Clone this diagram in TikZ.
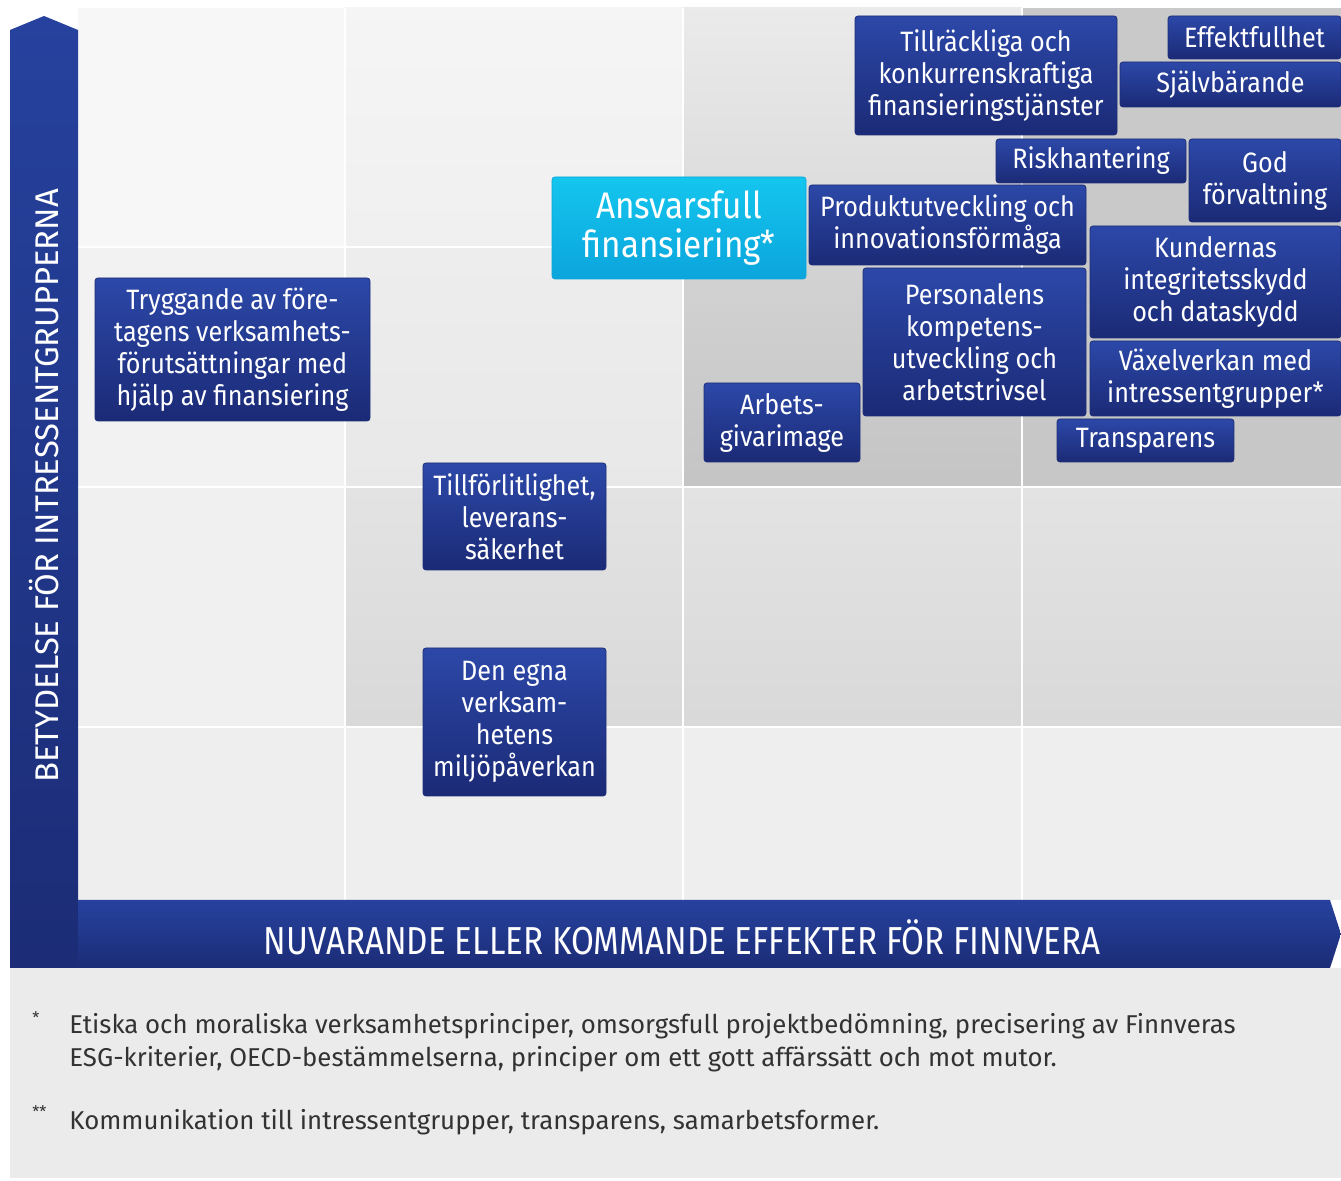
\documentclass[tikz,border=0pt]{standalone}
\usepackage{fontspec}
\setmainfont{Fira Sans}
\newfontfamily\cf{Fira Sans}[FakeStretch=0.9]
\newfontfamily\af{Fira Sans}[FakeStretch=0.85]
\definecolor{btop}{RGB}{44,72,168}
\definecolor{bbot}{RGB}{27,42,118}
\definecolor{bedge}{RGB}{30,46,120}
\definecolor{ctop}{RGB}{20,198,238}
\definecolor{cbot}{RGB}{11,165,220}
\definecolor{bartop}{RGB}{38,66,158}
\definecolor{barbot}{RGB}{28,44,118}
\definecolor{fntext}{RGB}{50,50,50}
\tikzset{
  bluebox/.style={rounded corners=1.5pt, top color=btop, bottom color=bbot, draw=bedge, line width=0.4pt,
    text=white, align=center, inner sep=0pt, font=\cf\fontsize{14}{16}\selectfont},
  cyanbox/.style={rounded corners=1.5pt, top color=ctop, bottom color=cbot, draw=cbot, line width=0.4pt,
    text=white, align=center, inner sep=0pt, font=\cf\fontsize{18.5}{19.5}\selectfont},
  gridline/.style={white, line width=1pt},
  axislabel/.style={text=white, inner sep=0pt},
  fnote/.style={text=fntext, anchor=west, inner sep=0pt, font=\fontsize{12.9}{16.5}\selectfont, align=left},
}
\begin{document}
\begin{tikzpicture}[x=0.5pt,y=-0.5pt]
\useasboundingbox (0,0) rectangle (1341,1181);
\fill[white] (0,0) rectangle (1341,1181);
% footnote area
\fill[black!8] (10,968) rectangle (1341,1178);
% cells row A
\fill[black!3] (78,8) rectangle (345,247);
\shade[top color=black!4, bottom color=black!6] (345,8) rectangle (683,247);
\shade[top color=black!8, bottom color=black!15] (683,8) rectangle (1022,247);
\fill[black!21] (1022,8) rectangle (1341,247);
% row B
\fill[black!5] (78,247) rectangle (345,487);
\shade[top color=black!7, bottom color=black!9] (345,247) rectangle (683,487);
\shade[top color=black!17, bottom color=black!23] (683,247) rectangle (1022,487);
\fill[black!22] (1022,247) rectangle (1341,487);
% row C
\fill[black!6] (78,487) rectangle (345,727);
\shade[top color=black!11, bottom color=black!15] (345,487) rectangle (1341,727);
% row D
\fill[black!6.5] (78,727) rectangle (1341,900);
% grid lines
\draw[gridline] (345,8) -- (345,900);
\draw[gridline] (683,8) -- (683,900);
\draw[gridline] (1022,8) -- (1022,900);
\draw[gridline] (78,247) -- (683,247);
\draw[gridline] (78,487) -- (1341,487);
\draw[gridline] (78,727) -- (1341,727);
% axes
\shade[top color=bartop, bottom color=barbot] (10,968) -- (10,30) -- (44,16) -- (78,30) -- (78,968) -- cycle;
\shade[top color=bartop, bottom color=barbot] (78,900) -- (1330,900) -- (1341,934) -- (1330,968) -- (78,968) -- cycle;
\node[axislabel, rotate=90, font=\fontsize{16.4}{16.4}\selectfont] (ylab) at (44,486) {BETYDELSE FÖR INTRESSENTGRUPPERNA};
\node[axislabel, font=\af\fontsize{19.5}{19.5}\selectfont] (xlab) at (682,937) {NUVARANDE ELLER KOMMANDE EFFEKTER FÖR FINNVERA};
% boxes
\node[bluebox, minimum width=137.5pt, minimum height=71.5pt] (tryg) at (232.5,349.5) {Tryggande av före-\\tagens verksamhets-\\förutsättningar med\\hjälp av finansiering};
\node[bluebox, minimum width=91.5pt, minimum height=53.5pt] (till) at (514.5,516.5) {Tillförlitlighet,\\leverans-\\säkerhet};
\node[bluebox, minimum width=91.5pt, minimum height=74pt] (egna) at (514.5,722) {Den egna\\verksam-\\hetens\\miljöpåverkan};
\node[cyanbox, minimum width=127pt, minimum height=51pt] (ansv) at (679,228) {Ansvarsfull\\finansiering*};
\node[bluebox, minimum width=131pt, minimum height=59.5pt] (tjan) at (986,75.5) {Tillräckliga och\\konkurrenskraftiga\\finansieringstjänster};
\node[bluebox, minimum width=86.5pt, minimum height=21.5pt] (effe) at (1254.5,37.5) {Effektfullhet};
\node[bluebox, minimum width=110.5pt, minimum height=22.5pt] (sjal) at (1230.5,84.5) {Självbärande};
\node[bluebox, minimum width=95pt, minimum height=22pt] (risk) at (1091,161) {Riskhantering};
\node[bluebox, minimum width=76pt, minimum height=41.5pt] (god) at (1265,180.5) {God\\förvaltning};
\node[bluebox, minimum width=138.5pt, minimum height=40pt] (prod) at (947.5,225) {Produktutveckling och\\innovationsförmåga};
\node[bluebox, minimum width=125.5pt, minimum height=56pt] (kund) at (1215.5,282) {Kundernas\\integritetsskydd\\och dataskydd};
\node[bluebox, minimum width=111.5pt, minimum height=74pt] (pers) at (974.5,342) {Personalens\\kompetens-\\utveckling och\\arbetstrivsel};
\node[bluebox, minimum width=125.5pt, minimum height=37.5pt] (vaxe) at (1215.5,378.5) {Växelverkan med\\intressentgrupper*};
\node[bluebox, minimum width=78pt, minimum height=39.5pt] (arbe) at (782,422.5) {Arbets-\\givarimage};
\node[bluebox, minimum width=88.5pt, minimum height=21.5pt] (tran) at (1145.5,440.5) {Transparens};
% footnotes
\node[fnote, font=\fontsize{8}{8}\selectfont] (s1) at (32,1018) {*};
\node[fnote] (f1) at (69,1043) {Etiska och moraliska verksamhetsprinciper, omsorgsfull projektbedömning, precisering av Finnveras\\ESG-kriterier, OECD-bestämmelserna, principer om ett gott affärssätt och mot mutor.};
\node[fnote, font=\fontsize{8}{8}\selectfont] (s2) at (32,1112) {**};
\node[fnote] (f2) at (69,1122) {Kommunikation till intressentgrupper, transparens, samarbetsformer.};
\end{tikzpicture}
\end{document}
